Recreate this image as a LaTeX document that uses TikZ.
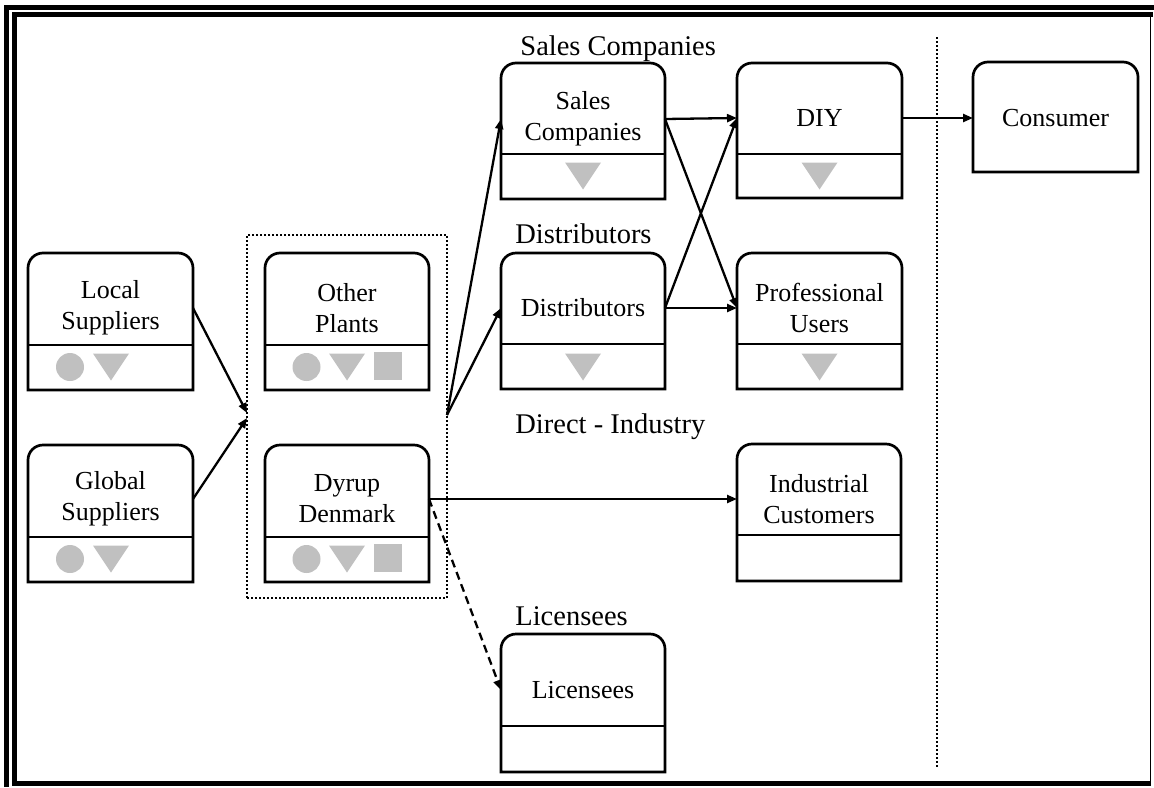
\documentclass[tikz,border=0pt]{standalone}
\usepackage{fontspec}
\setmainfont{Liberation Serif}
\usetikzlibrary{arrows.meta,fit}
\definecolor{shp}{RGB}{192,192,192}
\tikzset{
  boxline/.style={line width=1.35pt, line join=miter},
  txt/.style={inner sep=0pt, outer sep=0pt, align=center, font=\fontsize{13}{15.5}\selectfont},
  lbl/.style={inner sep=0pt, anchor=base west, font=\fontsize{14.25}{17}\selectfont},
  arr/.style={line width=1.15pt, -{Triangle[length=5pt,width=4pt]}},
  dotline/.style={line width=1.1pt, dash pattern=on 1pt off 1pt},
  frameline/.style={line width=2.5pt, line join=miter}
}
% #1 name, #2 left, #3 top, #4 right, #5 bottom, #6 text y, #7 text
\newcommand\ubox[7]{%
  \draw[boxline] (#2,#5) -- ([yshift=-7.5pt]#2,#3) arc[start angle=180,end angle=90,radius=7.5pt]
    -- ([xshift=-7.5pt]#4,#3) arc[start angle=90,end angle=0,radius=7.5pt] -- (#4,#5) -- cycle;
  \node[txt, minimum width={(#4-#2)*0.5pt}] (#1) at ({(#2+#4)/2},#6) {#7};
}
\newcommand\divl[3]{\draw[boxline] (#1,#3) -- (#2,#3);}
\newcommand\shcirc[2]{\fill[shp] (#1,#2) circle[radius=7pt];}
\newcommand\shtri[2]{\fill[shp] ({#1-18},{#2-13.5}) -- ({#1+18},{#2-13.5}) -- (#1,{#2+13.5}) -- cycle;}
\newcommand\shsq[2]{\fill[shp] ({#1-14},{#2-14}) rectangle ({#1+14},{#2+14});}
\begin{document}
\begin{tikzpicture}[x=0.5pt,y=-0.5pt]
\useasboundingbox (0,0) rectangle (1154,787);
% frame
\draw[frameline] (1154,7) -- (6.5,7) -- (6.5,787);
\draw[frameline] (1153,14.5) -- (14.5,14.5) -- (14.5,783.5) -- (1151,783.5);
\draw[line width=0.75pt] (1150.5,14.5) -- (1150.5,783.5);
% group of plants
\coordinate (g1) at (247,235);
\coordinate (g2) at (447,598);
\node[draw, dotline, fit=(g1)(g2), inner sep=0pt, outer sep=0pt] (grp) {};
% vertical separator
\coordinate (v1) at (937,37);
\coordinate (v2) at (937,767);
\draw[dotline] (v1) -- (v2);
% labels
\node[lbl] (lsc) at (520,55) {Sales Companies};
\node[lbl] (ldi) at (515,243) {Distributors};
\node[lbl] (ldir) at (515,433) {Direct - Industry};
\node[lbl] (lli) at (515,625) {Licensees};
% boxes
\ubox{ls}{28}{253}{193}{390}{308}{Local\\Suppliers}
\divl{28}{193}{345}
\shcirc{70}{367}\shtri{111}{367}
\ubox{gs}{28}{445}{193}{582}{499}{Global\\Suppliers}
\divl{28}{193}{537}
\shcirc{70}{559}\shtri{111}{559}
\ubox{op}{265}{253}{429}{390}{308}{Other\\Plants}
\divl{265}{429}{345}
\shcirc{306.5}{367}\shtri{347}{367}\shsq{388}{366}
\ubox{dd}{265}{445}{429}{582}{499}{Dyrup\\Denmark}
\divl{265}{429}{537}
\shcirc{306.5}{559}\shtri{347}{559}\shsq{388}{558}
\ubox{sc}{501}{63}{665}{199}{119}{Sales\\Companies}
\divl{501}{665}{154}
\shtri{583}{176}
\ubox{di}{501}{253}{665}{389}{308}{Distributors}
\divl{501}{665}{344}
\shtri{583}{367}
\ubox{li}{501}{634}{665}{772}{690}{Licensees}
\divl{501}{665}{726}
\ubox{diy}{737}{63}{902}{198}{118}{DIY}
\divl{737}{902}{154}
\shtri{819.5}{176}
\ubox{pu}{737}{253}{902}{389}{308}{Professional\\Users}
\divl{737}{902}{344}
\shtri{819.5}{367}
\ubox{ic}{737}{444}{901}{581}{499}{Industrial\\Customers}
\divl{737}{901}{535}
\ubox{co}{973}{62}{1138}{172}{118}{Consumer}
% connectors
\draw[arr] (ls.east) -- ([yshift=1.75pt]grp.west);
\draw[arr] (gs.east) -- ([yshift=-0.75pt]grp.west);
\draw[arr] ([yshift=0.75pt]grp.east) -- (sc.west);
\draw[arr] ([yshift=0.75pt]grp.east) -- (di.west);
\draw[arr] (dd.east) -- (ic.west);
\draw[arr, dash pattern=on 4pt off 2.5pt] (dd.east) -- (li.west);
\draw[arr] (sc.east) -- (diy.west);
\draw[arr] (sc.east) -- (pu.west);
\draw[arr] (di.east) -- (diy.west);
\draw[arr] (di.east) -- (pu.west);
\draw[arr] (diy.east) -- (co.west);
\end{tikzpicture}
\end{document}
